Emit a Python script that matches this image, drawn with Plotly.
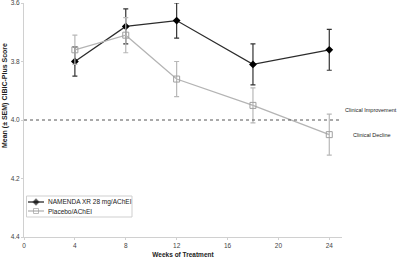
import plotly.graph_objects as go

weeks = [4, 8, 12, 18, 24]
namenda_mean = [3.80, 3.68, 3.66, 3.81, 3.76]
namenda_sem = [0.05, 0.06, 0.06, 0.07, 0.07]
placebo_mean = [3.76, 3.71, 3.86, 3.95, 4.05]
placebo_sem = [0.05, 0.06, 0.06, 0.06, 0.07]
x_ticks = [0, 4, 8, 12, 16, 20, 24]
y_ticks = [3.6, 3.8, 4.0, 4.2, 4.4]
series_names = ["NAMENDA XR 28 mg/AChEI", "Placebo/AChEI"]
threshold = 4.0

FONT = "Liberation Sans, Arial, sans-serif"
W, H = 400, 263
ML, MR, MT, MB = 24, 58, 3, 26
PW, PH = W - ML - MR, H - MT - MB

def px(x):  # pixel -> paper x
    return (x - ML) / PW

def py(y):  # pixel -> paper y
    return (H - MB - y) / PH

styles = [
    dict(line=dict(color="#2b2b2b", width=1.3),
         marker=dict(symbol="diamond", size=6, color="#000000"),
         err="#333333"),
    dict(line=dict(color="#b4b4b4", width=1.3),
         marker=dict(symbol="square-open", size=6, color="#a0a0a0", line=dict(width=1)),
         err="#b8b8b8"),
]

fig = go.Figure()
for name, m, s, st in zip(series_names, [namenda_mean, placebo_mean], [namenda_sem, placebo_sem], styles):
    fig.add_trace(go.Scatter(
        x=weeks, y=m, name=name, mode="lines+markers",
        line=st["line"], marker=st["marker"],
        error_y=dict(type="data", array=s, visible=True, color=st["err"], thickness=1.2, width=2.5),
        cliponaxis=False, showlegend=False,
    ))

# custom compact legend (samples on an overlay axis in paper units)
leg_rows = [py(202), py(211)]
for name, st, yy in zip(series_names, styles, leg_rows):
    fig.add_trace(go.Scatter(
        x=[px(28), px(36), px(44)], y=[yy, yy, yy], mode="lines+markers",
        line=st["line"], marker=dict(st["marker"], size=[0, 5, 0]),
        xaxis="x2", yaxis="y2", showlegend=False, hoverinfo="skip", cliponaxis=False,
    ))
    fig.add_annotation(text=name, xref="paper", yref="paper", x=px(46), y=yy,
                       xanchor="left", yanchor="middle", showarrow=False,
                       font=dict(size=6.5, color="#222222", family=FONT))
fig.add_shape(type="rect", xref="paper", yref="paper",
              x0=px(26.5), x1=px(132), y0=py(196), y1=py(217),
              line=dict(color="#cfcfcf", width=1), fillcolor="rgba(0,0,0,0)")

fig.add_shape(type="line", xref="x", yref="y", x0=0, x1=27.2, y0=threshold, y1=threshold,
              line=dict(color="#555555", width=1, dash="dot"))

fig.add_annotation(text="Clinical Improvement", xref="paper", yref="y", x=px(399), y=3.965,
                   xanchor="right", yanchor="middle", showarrow=False,
                   font=dict(size=5.5, color="#222222", family=FONT))
fig.add_annotation(text="Clinical Decline", xref="paper", yref="y", x=px(372), y=4.05,
                   xanchor="center", yanchor="middle", showarrow=False,
                   font=dict(size=5.5, color="#222222", family=FONT))
fig.add_annotation(text="<b>Mean (± SEM) CIBIC-Plus Score</b>", xref="paper", yref="paper",
                   x=px(-1), y=py(96), xanchor="left", yanchor="middle", textangle=-90,
                   showarrow=False, font=dict(size=7, color="#222222", family=FONT))

fig.update_layout(
    width=W, height=H,
    margin=dict(l=ML, r=MR, t=MT, b=MB, autoexpand=False),
    plot_bgcolor="white", paper_bgcolor="white",
    font=dict(family=FONT, size=7, color="#333333"),
    showlegend=False,
    xaxis=dict(range=[0, 25], tickvals=x_ticks, showgrid=False, zeroline=False,
               showline=True, linecolor="#d0d0d0", linewidth=1, automargin=False,
               ticks="outside", ticklen=2, tickcolor="#d0d0d0",
               tickfont=dict(size=6.5, color="#444444"),
               title=dict(text="<b>Weeks of Treatment</b>", font=dict(size=6.5, color="#222222"), standoff=4)),
    yaxis=dict(range=[4.4, 3.6], tickvals=y_ticks, tickformat=".1f", showgrid=False, zeroline=False,
               showline=True, linecolor="#d0d0d0", linewidth=1, automargin=False,
               ticks="outside", ticklen=2, tickcolor="#d0d0d0", ticklabeloverflow="allow",
               tickfont=dict(size=6.5, color="#444444")),
    xaxis2=dict(overlaying="x", range=[0, 1], visible=False, anchor="y2"),
    yaxis2=dict(overlaying="y", range=[0, 1], visible=False, anchor="x2"),
)

fig.write_html("out.html")
